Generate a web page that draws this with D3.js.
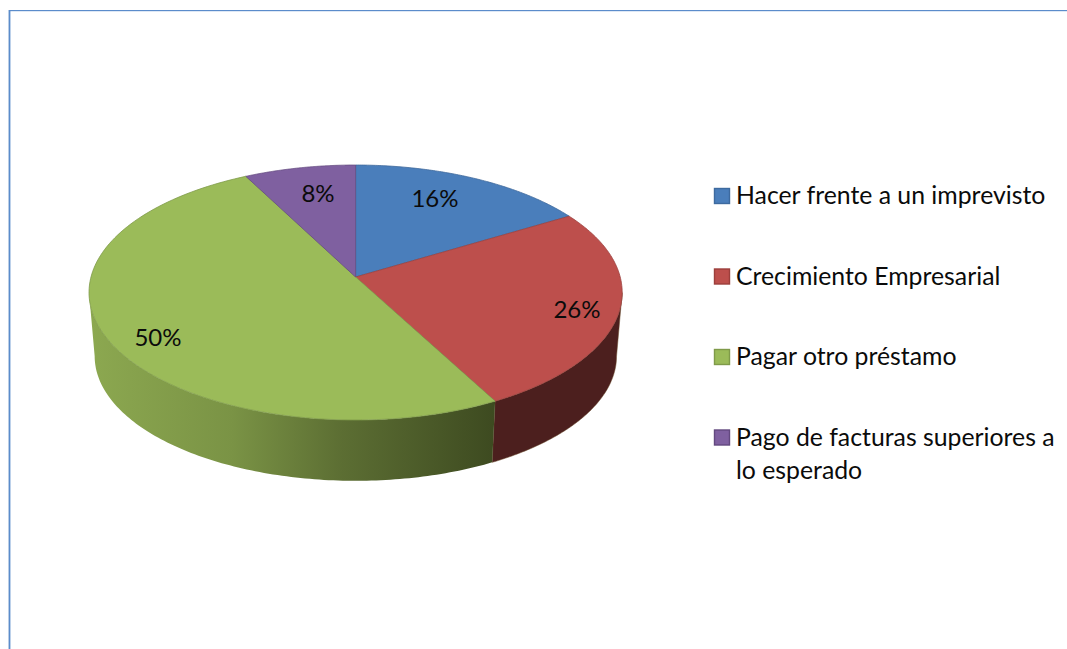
<!DOCTYPE html>
<html><head><meta charset="utf-8">
<script src="https://cdn.jsdelivr.net/npm/d3@7"></script>
<style>html,body{margin:0;padding:0;background:#fff}svg{display:block}text{font-family:Lato,"Open Sans",sans-serif;fill:#0b0b0b}</style>
</head><body><svg id="c" width="1067" height="649"></svg>
<script>
const categories = ["Hacer frente a un imprevisto","Crecimiento Empresarial","Pagar otro préstamo","Pago de facturas superiores a lo esperado"];
const values = [16.4,25.8,50.2,7.6];
const valueLabels = ["16%","26%","50%","8%"];
const topColors = ["#4a7ebb","#bd4f4c","#9bbb59","#7f60a0"];
const edgeColors = ["#40699c","#9d4240","#7f9a49","#664d82"];
const swatchBorders = ["#3d6a9f","#9c3f3c","#7f9a49","#63497f"];

const svg = d3.select("#c"), defs = svg.append("defs");

// perspective disc: apex, radii, foreshortening
const K = 0.1216;
const topDisc = {cx:355.6, cy:277, rx:264.6, ry:125.6};
const baseDisc = {cx:355.6, cy:341, rx:259, ry:122.8};
const project = (d, a, t=1) => {
  const u = Math.sin(a)*t, v = Math.cos(a)*t, w = 1 + K*v;
  return [d.cx + d.rx*u/w, d.cy - d.ry*v/w];
};
const arcPts = (d, a0, a1) => d3.range(0, 121).map(i => project(d, a0 + (a1-a0)*i/120));
const line = d3.line();
const slices = d3.pie().sort(null)(values);

// frame
svg.append("rect").attr("x",8).attr("y",10).attr("width",1).attr("height",639).attr("fill","#b9cde6");
svg.append("rect").attr("x",9).attr("y",10).attr("width",1.4).attr("height",639).attr("fill","#5b8ccb");
svg.append("rect").attr("x",9).attr("y",10).attr("width",1058).attr("height",1.2).attr("fill","#5b8ccb");

// side gradients
const gradient = (id, x1, x2, stops) => {
  const g = defs.append("linearGradient").attr("id",id).attr("gradientUnits","userSpaceOnUse")
    .attr("x1",x1).attr("x2",x2).attr("y1",0).attr("y2",0);
  stops.forEach(s => g.append("stop").attr("offset",s[0]).attr("stop-color",s[1]));
};
gradient("sideGreen", 90, 496, [[0,"#8ca850"],[0.35,"#7a9345"],[0.62,"#5c6e33"],[1,"#3d4a20"]]);
const sideFill = ["none","#4c1f1e","url(#sideGreen)","none"];

// visible walls: the front half of the rim, from the right extreme to the left extreme
const RIGHT = Math.PI/2 + Math.asin(K), LEFT = 3*Math.PI/2 - Math.asin(K);
slices.forEach((s,i) => {
  const a0 = Math.max(s.startAngle, RIGHT), a1 = Math.min(s.endAngle, LEFT);
  if (a1 <= a0) return;
  const pts = arcPts(topDisc,a0,a1).concat(arcPts(baseDisc,a0,a1).reverse());
  svg.append("path").attr("d", line(pts)+"Z").attr("fill",sideFill[i])
    .attr("stroke",i===1?"#6a4a2a":"none").attr("stroke-width",0.5);
});

// top faces
slices.forEach((s,i) => {
  const pts = [[topDisc.cx,topDisc.cy]].concat(arcPts(topDisc,s.startAngle,s.endAngle));
  svg.append("path").attr("d", line(pts)+"Z").attr("fill",topColors[i])
    .attr("stroke",edgeColors[i]).attr("stroke-width",0.8).attr("stroke-linejoin","round");
});

// value labels
const labelPos = [[435,199],[577,310],[158,338],[318,194]];
svg.selectAll("text.v").data(valueLabels).enter().append("text").attr("class","v")
  .attr("x",(d,i)=>labelPos[i][0]).attr("y",(d,i)=>labelPos[i][1]+8)
  .attr("text-anchor","middle").attr("font-size",24).text(d=>d);

// legend
const legendRow = d3.scaleLinear().domain([0,3]).range([196,437.5]);
const wrapped = [[categories[0]],[categories[1]],[categories[2]],["Pago de facturas superiores a","lo esperado"]];
categories.forEach((c,i) => {
  const y = legendRow(i);
  svg.append("rect").attr("x",714.5).attr("y",y-7.5).attr("width",15).attr("height",15)
    .attr("fill",topColors[i]).attr("stroke",swatchBorders[i]).attr("stroke-width",1.4);
  wrapped[i].forEach((t,j) => svg.append("text").attr("x",736).attr("y",y+8+j*33).attr("font-size",24.8).text(t));
});
</script></body></html>
